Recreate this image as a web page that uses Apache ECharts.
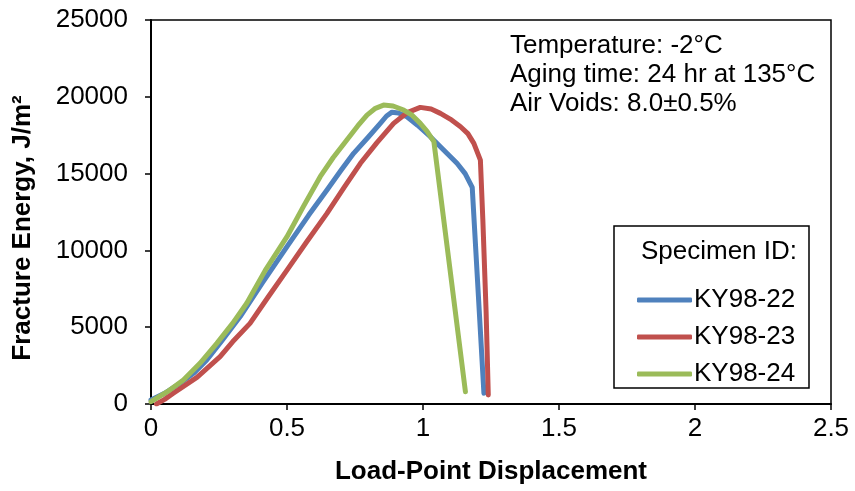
<!DOCTYPE html>
<html>
<head>
<meta charset="utf-8">
<script src="https://cdn.jsdelivr.net/npm/echarts@6/dist/echarts.min.js"></script>
<style>
  html, body { margin: 0; padding: 0; background: #fff; }
  #chart { width: 855px; height: 491px; }
</style>
</head>
<body>
<div id="chart"></div>
<script>
let chart = echarts.init(document.getElementById('chart'));

// 数据 (displacement, fracture energy)
let names = ['KY98-22', 'KY98-23', 'KY98-24'];
let colors = ['#4F81BD', '#C0504D', '#9BBB59'];

let ky22 = [
    [0, 260], [0.05, 700], [0.107, 1350], [0.16, 2050], [0.205, 2860], [0.26, 4100], [0.328, 5690],
    [0.41, 7900], [0.5, 10240], [0.58, 12300], [0.647, 13930], [0.70, 15250], [0.745, 16320],
    [0.80, 17400], [0.843, 18270], [0.866, 18750], [0.886, 19000], [0.91, 18950], [0.941, 18700],
    [0.98, 18150], [1.027, 17400], [1.075, 16550], [1.125, 15670], [1.155, 15000], [1.181, 14100],
    [1.224, 700]
];
let ky23 = [
    [0.02, 0], [0.05, 300], [0.082, 700], [0.17, 1750], [0.254, 3080], [0.30, 4050], [0.364, 5250],
    [0.43, 6950], [0.5, 8720], [0.57, 10500], [0.647, 12410], [0.71, 14100], [0.77, 15670],
    [0.83, 17000], [0.892, 18270], [0.94, 18950], [0.99, 19310], [1.03, 19200], [1.064, 18920],
    [1.10, 18550], [1.138, 18050], [1.165, 17600], [1.187, 16970], [1.211, 15880], [1.22, 12000],
    [1.232, 6000], [1.24, 590]
];
let ky24 = [
    [0, 150], [0.06, 800], [0.119, 1560], [0.18, 2650], [0.242, 3950], [0.30, 5250], [0.352, 6560],
    [0.42, 8700], [0.5, 10890], [0.56, 12850], [0.622, 14800], [0.67, 16050], [0.72, 17190],
    [0.76, 18100], [0.794, 18810], [0.825, 19250], [0.855, 19460], [0.89, 19400], [0.929, 19140],
    [0.96, 18800], [0.99, 18270], [1.015, 17750], [1.04, 17080], [1.156, 800]
];
let series_data = [ky22, ky23, ky24];

let x_ticks = [0, 0.5, 1, 1.5, 2, 2.5];
let y_ticks = [0, 5000, 10000, 15000, 20000, 25000];

let font = 'Liberation Sans, Arial, sans-serif';

let option = {
    animation: false,
    backgroundColor: '#fff',
    textStyle: { fontFamily: font },
    grid: {
        left: 151, right: 24, top: 20, bottom: 87,
        show: true, borderColor: '#000', borderWidth: 1.5
    },
    xAxis: {
        type: 'value',
        min: x_ticks[0],
        max: x_ticks[x_ticks.length - 1],
        interval: 0.5,
        name: 'Load-Point Displacement',
        nameLocation: 'middle',
        nameGap: 55,
        nameTextStyle: { fontFamily: font, fontSize: 26, fontWeight: 'bold', color: '#000' },
        axisLine: { lineStyle: { color: '#000', width: 2 } },
        axisTick: { show: true, length: 6, lineStyle: { color: '#000', width: 1.5 } },
        axisLabel: { fontFamily: font, fontSize: 26, color: '#000', margin: 12 },
        splitLine: { show: false }
    },
    yAxis: {
        type: 'value',
        min: y_ticks[0],
        max: y_ticks[y_ticks.length - 1],
        interval: 5000,
        axisLine: { show: true, lineStyle: { color: '#000', width: 2 } },
        axisTick: { show: true, length: 6, lineStyle: { color: '#000', width: 1.5 } },
        axisLabel: { fontFamily: font, fontSize: 26, color: '#000', margin: 23, formatter: v => String(v) },
        splitLine: { show: false }
    },
    legend: {
        orient: 'vertical',
        left: 632,
        top: 280,
        icon: 'roundRect',
        itemWidth: 55,
        itemHeight: 5,
        itemGap: 7,
        data: names,
        textStyle: { fontFamily: font, fontSize: 26, color: '#000', lineHeight: 30, padding: [0, 0, 0, -3] }
    },
    graphic: [
        {
            type: 'rect',
            shape: { x: 614, y: 226, width: 195, height: 162 },
            style: { fill: '#fff', stroke: '#000', lineWidth: 1.5 },
            z: 1
        },
        {
            type: 'text',
            x: 797, y: 252,
            style: {
                text: 'Specimen ID:', fill: '#000', font: '26px ' + font,
                textAlign: 'right', textVerticalAlign: 'middle'
            },
            z: 2
        },
        {
            type: 'text',
            x: 510, y: 31,
            style: {
                text: 'Temperature: -2°C\nAging time: 24 hr at 135°C\nAir Voids: 8.0±0.5%',
                fill: '#000', font: '26px ' + font, lineHeight: 29
            },
            z: 2
        },
        {
            type: 'text',
            x: 23, y: 228,
            rotation: Math.PI / 2,
            style: {
                text: 'Fracture Energy, J/m²', fill: '#000', font: 'bold 26px ' + font,
                textAlign: 'center', textVerticalAlign: 'middle'
            },
            z: 2
        }
    ],
    series: names.map((n, i) => ({
        name: n,
        type: 'line',
        data: series_data[i],
        showSymbol: false,
        smooth: false,
        color: colors[i],
        lineStyle: { width: 5, color: colors[i], join: 'round', cap: 'round' },
        z: 3 + i
    }))
};

chart.setOption(option);
</script>
</body>
</html>
